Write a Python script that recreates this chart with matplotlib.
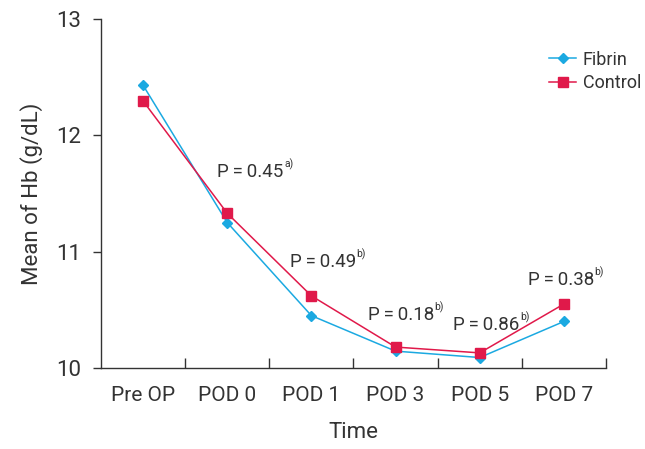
import numpy as np
import matplotlib
matplotlib.use('Agg')
import matplotlib.pyplot as plt

plt.rcParams['font.family'] = ['Roboto', 'DejaVu Sans']

categories = ['Pre OP', 'POD 0', 'POD 1', 'POD 3', 'POD 5', 'POD 7']
fibrin = [12.43, 11.25, 10.45, 10.145, 10.09, 10.40]
control = [12.295, 11.33, 10.62, 10.18, 10.13, 10.55]
p_labels = ['0.45', '0.49', '0.18', '0.86', '0.38']
p_marks = ['a)', 'b)', 'b)', 'b)', 'b)']
# label anchors (category index offset, y value)
p_pos = [(0.88, 11.685), (1.74, 10.91), (2.67, 10.455), (3.68, 10.37), (4.57, 10.755)]

blue = '#1ba9e1'
red = '#e0194a'
dark = '#333333'

fig = plt.figure(figsize=(6.45, 4.49), dpi=100)
ax = fig.add_axes([0.1566, 0.1804, 0.9395 - 0.1566, 0.9577 - 0.1804])

x = np.arange(len(categories))
ax.plot(x, fibrin, color=blue, lw=1.1, marker='D', ms=5, label='Fibrin')
ax.plot(x, control, color=red, lw=1.1, marker='s', ms=6.5, label='Control')

for (px, py), v, m in zip(p_pos, p_labels, p_marks):
    t = ax.text(px, py, 'P\u2009=\u2009' + v, ha='left', va='center',
                fontsize=13.5, color=dark)
    ax.annotate(m, xy=(1, 0.62), xycoords=t, xytext=(0.5, 0),
                textcoords='offset points', ha='left', va='bottom',
                fontsize=7.5, color=dark)

ax.set_xlim(-0.5, 5.5)
ax.set_ylim(10, 13)
ax.set_yticks([10, 11, 12, 13])
ax.set_xticks(x)
ax.set_xticklabels(categories)
ax.tick_params(axis='x', length=0, pad=13, labelsize=15, colors=dark)
ax.set_xticks(np.arange(0.5, 6, 1), minor=True)
ax.tick_params(axis='x', which='minor', direction='in', length=7, color=dark, width=1)
ax.tick_params(axis='y', direction='out', length=6, width=1, color=dark,
               labelsize=16, colors=dark, pad=8)

for s in ['top', 'right']:
    ax.spines[s].set_visible(False)
for s in ['left', 'bottom']:
    ax.spines[s].set_color(dark)
    ax.spines[s].set_linewidth(1)

ax.set_xlabel('Time', fontsize=16, color=dark, labelpad=12)
ax.set_ylabel('Mean of Hb (g/dL)', fontsize=16, color=dark, labelpad=10)

ax.legend(loc='upper left', bbox_to_anchor=(0.832, 0.915), bbox_transform=fig.transFigure,
          frameon=False, fontsize=13, handlelength=1.5, handletextpad=0.35,
          labelspacing=0.3, borderpad=0.2, labelcolor=dark)

plt.savefig('out.png', dpi=100)
